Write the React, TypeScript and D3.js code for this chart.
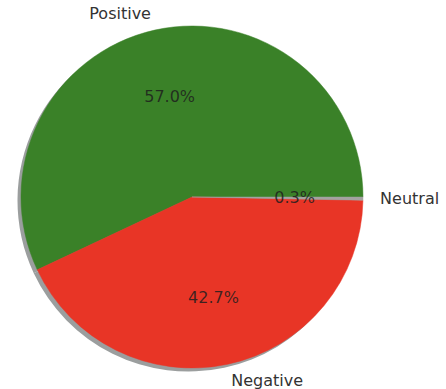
import React from 'react';
import * as d3 from 'd3';

const labels = ['Positive', 'Negative', 'Neutral'];
const shares = [57.0, 42.7, 0.3];
const colors = ['#3a8128', '#e83526', '#a3a3a0'];

const W = 446;
const H = 389;
const cx = 192;
const cy = 197;
const R = 171;

export default function App() {
  // matplotlib style: start at 3 o'clock, go counterclockwise
  const pie = d3
    .pie<number>()
    .sort(null)
    .startAngle(Math.PI / 2)
    .endAngle(Math.PI / 2 - 2 * Math.PI);
  const arcs = pie(shares);
  const arc = d3.arc<d3.PieArcDatum<number>>().innerRadius(0).outerRadius(R);
  const fmt = d3.format('.1f');

  const at = (a: d3.PieArcDatum<number>, r: number) => {
    const mid = (a.startAngle + a.endAngle) / 2;
    return [r * Math.sin(mid), -r * Math.cos(mid)];
  };

  return (
    <svg
      width={W}
      height={H}
      style={{ position: 'absolute', left: 0, top: 0, background: '#fff' }}
      fontFamily="DejaVu Sans, sans-serif"
    >
      <g transform={`translate(${cx},${cy})`}>
        {/* shadow */}
        <g transform="translate(-3.5,3.5)">
          {arcs.map((a, i) => (
            <path key={'s' + i} d={arc(a) || ''} fill="#9b9e9e" />
          ))}
        </g>
        {arcs.map((a, i) => (
          <path key={i} d={arc(a) || ''} fill={colors[i]} stroke={colors[i]} strokeWidth={0.5} />
        ))}
        {arcs.map((a, i) => {
          const [x, y] = at(a, R * 1.1);
          return (
            <text
              key={'l' + i}
              x={x}
              y={y}
              textAnchor={x < 0 ? 'end' : 'start'}
              dominantBaseline="central"
              fontSize={16}
              fill="#333"
            >
              {labels[i]}
            </text>
          );
        })}
        {arcs.map((a, i) => {
          const [x, y] = at(a, R * 0.6);
          return (
            <text
              key={'p' + i}
              x={x}
              y={y}
              textAnchor="middle"
              dominantBaseline="central"
              fontSize={16}
              fill="#1e1e1e"
              fillOpacity={0.85}
            >
              {fmt(shares[i])}%
            </text>
          );
        })}
      </g>
    </svg>
  );
}
